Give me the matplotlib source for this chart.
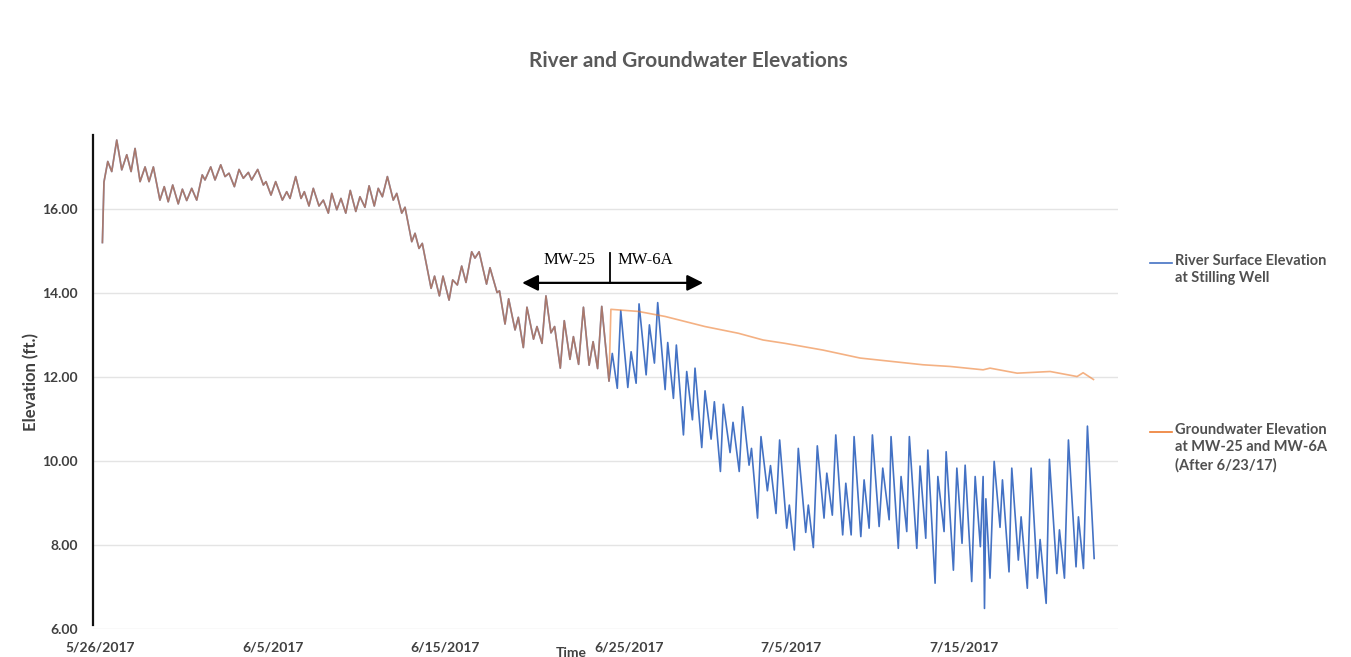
import matplotlib
matplotlib.use("Agg")
import matplotlib.pyplot as plt
import matplotlib.transforms as mtransforms
from matplotlib.lines import Line2D
import pandas as pd

# ---------------- data ----------------
START = pd.Timestamp("2017-05-26")

# River surface elevation at stilling well: days after 5/26/2017, elevation (ft)
river_day = [
    0.14, 0.23, 0.45, 0.68, 0.97, 1.26, 1.55, 1.80, 2.03, 2.32, 2.61, 2.84, 3.09, 3.47,
    3.72, 3.95, 4.21, 4.53, 4.77, 5.02, 5.31, 5.60, 5.92, 6.08, 6.41, 6.66, 6.99, 7.24,
    7.47, 7.78, 8.05, 8.30, 8.59, 8.78, 9.13, 9.46, 9.61, 9.90, 10.17, 10.56, 10.81,
    11.00, 11.33, 11.64, 11.83, 12.10, 12.35, 12.68, 12.93, 13.22, 13.42, 13.71, 13.95,
    14.23, 14.49, 14.81, 15.05, 15.34, 15.58, 15.88, 16.11, 16.35, 16.64, 16.98, 17.18,
    17.47, 17.66, 18.05, 18.24, 18.47, 18.66, 19.17, 19.37, 19.65, 19.86, 20.21, 20.42,
    20.69, 20.94, 21.19, 21.52, 21.71, 21.95, 22.38, 22.58, 22.99, 23.13, 23.45, 23.66,
    24.03, 24.22, 24.51, 24.72, 25.10, 25.30, 25.59, 25.82, 26.11, 26.32, 26.65, 26.88,
    27.21, 27.41, 27.71, 27.99, 28.32, 28.55, 28.81, 29.05, 29.47,
    29.66, 29.95, 30.15, 30.56, 30.75, 31.04, 31.21, 31.62, 31.81, 32.10, 32.29, 32.72,
    32.87, 33.20, 33.37, 33.78, 33.97, 34.30, 34.45, 34.84, 35.03, 35.38, 35.57, 35.92,
    36.09, 36.48, 36.65, 37.01, 37.21, 37.58, 37.72, 38.07, 38.27, 38.64, 38.82, 39.14,
    39.35, 39.76, 39.91, 40.20, 40.43, 40.86, 41.01, 41.30, 41.53, 41.92, 42.08, 42.40,
    42.60, 43.00, 43.18, 43.49, 43.66, 44.05, 44.24, 44.53, 44.72, 45.11, 45.32, 45.69,
    45.80, 46.22, 46.38, 46.71, 46.86, 47.29, 47.48, 47.81, 47.93, 48.35, 48.51, 48.87,
    48.99, 49.41, 49.61, 49.91, 50.09, 50.47, 50.67, 50.97, 51.13, 51.21, 51.29, 51.53,
    51.77, 52.11, 52.25, 52.63, 52.79, 53.17, 53.33, 53.69, 53.91, 54.27, 54.43, 54.78,
    54.97, 55.40, 55.55, 55.84, 56.07, 56.51, 56.65, 56.94, 57.17, 57.56,
]
river_elev = [
    15.20, 16.64, 17.13, 16.89, 17.64, 16.93, 17.29, 16.89, 17.44, 16.65, 17.00, 16.65, 17.00, 16.21,
    16.53, 16.17, 16.57, 16.12, 16.47, 16.20, 16.49, 16.21, 16.81, 16.69, 17.00, 16.69, 17.05, 16.77,
    16.85, 16.53, 16.94, 16.73, 16.87, 16.69, 16.94, 16.57, 16.65, 16.33, 16.65, 16.21, 16.41,
    16.25, 16.77, 16.25, 16.41, 16.07, 16.49, 16.07, 16.21, 15.90, 16.37, 15.98, 16.25,
    15.90, 16.44, 15.94, 16.29, 16.04, 16.55, 16.07, 16.49, 16.29, 16.77, 16.21, 16.37,
    15.90, 16.04, 15.22, 15.42, 15.06, 15.18, 14.11, 14.40, 13.93, 14.40, 13.83, 14.31,
    14.19, 14.64, 14.25, 14.98, 14.83, 14.98, 14.21, 14.60, 14.01, 14.05, 13.26, 13.86,
    13.12, 13.42, 12.70, 13.66, 12.90, 13.20, 12.80, 13.93, 13.05, 13.20, 12.21, 13.34,
    12.42, 12.96, 12.30, 13.66, 12.28, 12.84, 12.20, 13.68, 11.90,
    12.56, 11.73, 13.58, 11.75, 12.60, 11.85, 13.74, 12.05, 13.24, 12.33, 13.77, 11.70,
    12.82, 11.49, 12.76, 10.62, 12.13, 10.98, 12.21, 10.32, 11.67, 10.52, 11.41, 9.75,
    11.35, 10.20, 10.92, 9.75, 11.29, 9.90, 10.30, 8.64, 10.58, 9.29, 9.89, 8.75,
    10.50, 8.40, 8.95, 7.88, 10.30, 8.30, 8.95, 7.94, 10.36, 8.64, 9.71, 8.71,
    10.62, 8.24, 9.47, 8.24, 10.58, 8.20, 9.55, 8.40, 10.62, 8.44, 9.83, 8.60,
    10.58, 7.92, 9.63, 8.32, 10.58, 7.92, 9.88, 8.16, 10.26, 7.09, 9.63, 8.32,
    10.22, 7.40, 9.83, 8.04, 9.90, 7.13, 9.63, 7.96, 9.63, 6.49, 9.10, 7.21,
    9.99, 8.42, 9.55, 7.36, 9.83, 7.64, 8.67, 6.97, 9.83, 7.21, 8.13, 6.61,
    10.04, 7.32, 8.36, 7.21, 10.50, 7.48, 8.67, 7.44, 10.83, 7.68,
]

# Groundwater elevation: same as river up to 6/23, then MW-6A record
gw_switch_day = 29.47
gw_late_day = [29.58, 31.17, 32.72, 35.03, 36.96, 38.39, 39.66, 41.86, 44.01,
               47.65, 49.22, 51.13, 51.53, 53.10, 55.01, 56.57, 56.92, 57.52]
gw_late_elev = [13.61, 13.56, 13.44, 13.20, 13.04, 12.88, 12.80, 12.64, 12.45,
                12.29, 12.25, 12.17, 12.21, 12.09, 12.13, 12.01, 12.10, 11.94]

series_names = ["River Surface Elevation\nat Stilling Well",
                "Groundwater Elevation\nat MW-25 and MW-6A\n(After 6/23/17)"]
x_tick_days = [0, 10, 20, 30, 40, 50]
y_ticks = [6, 8, 10, 12, 14, 16]

# ---------------- build ----------------
def to_dt(days):
    return START + pd.to_timedelta(pd.Series(days, dtype=float), unit="D")

river_t = to_dt(river_day)
gw_early = [(d, v) for d, v in zip(river_day, river_elev) if d <= gw_switch_day]
gw_days = [d for d, _ in gw_early] + gw_late_day
gw_vals = [v for _, v in gw_early] + gw_late_elev
gw_t = to_dt(gw_days)

BLUE = "#4472C4"
ORANGE = "#ED7D31"
TXT = "#404040"
plt.rcParams["font.family"] = ["Lato", "DejaVu Sans"]

W, H = 1351, 657
fig = plt.figure(figsize=(W / 100, H / 100), dpi=100)
fig.patch.set_facecolor("white")

ax_l, ax_r, ax_t, ax_b = 93, 1118, 135, 629
ax = fig.add_axes([ax_l / W, 1 - ax_b / H, (ax_r - ax_l) / W, (ax_b - ax_t) / H])

ax.plot(river_t, river_elev, color=BLUE, lw=1.2, zorder=3, solid_joinstyle="round")
ax.plot(gw_t, gw_vals, color=ORANGE, lw=1.2, alpha=0.6, zorder=4, solid_joinstyle="round")

ax.set_ylim(6, 17.76)
ax.set_xlim(START - pd.Timedelta(days=0.405), START + pd.Timedelta(days=58.94))
ax.set_yticks(y_ticks)
ax.set_yticklabels([f"{v:.2f}" for v in y_ticks])
xt = [START + pd.Timedelta(days=d) for d in x_tick_days]
ax.set_xticks(xt)
ax.set_xticklabels([f"{t.month}/{t.day}/{t.year}" for t in xt])

ax.grid(axis="y", color="#E4E4E4", lw=1.0, zorder=0)
ax.grid(axis="x", visible=False)
for s in ["top", "right", "bottom"]:
    ax.spines[s].set_visible(False)
ax.spines["left"].set_color("#111111")
ax.spines["left"].set_linewidth(1.6)
ax.spines["left"].set_bounds(6.1, 17.76)

ax.tick_params(axis="both", length=0, colors=TXT)
ax.tick_params(axis="y", pad=11, labelsize=10)
ax.tick_params(axis="x", pad=9, labelsize=10)
for lab in ax.get_yticklabels() + ax.get_xticklabels():
    lab.set_fontweight("bold")
    lab.set_color(TXT)
# the 6/25 label sits a little right of its tick in the reference
lab625 = ax.get_xticklabels()[3]
lab625.set_transform(lab625.get_transform() + mtransforms.ScaledTranslation(11 / 100, 0, fig.dpi_scale_trans))

# titles
fig.text(688 / W, 1 - 61 / H, "River and Groundwater Elevations", ha="center", va="center",
         fontsize=15, fontweight="bold", color="#595959")
fig.text(31 / W, 1 - 382 / H, "Elevation (ft.)", rotation=90, ha="center", va="center",
         fontsize=12, fontweight="bold", color=TXT)
fig.text(571 / W, 1 - 653 / H, "Time", ha="center", va="center",
         fontsize=10, fontweight="bold", color=TXT)

# legend (drawn manually to match spacing)
for (y0, nlines), col, name in zip([(263, 2), (432, 3)], [BLUE, ORANGE], series_names):
    fig.add_artist(Line2D([1150 / W, 1172 / W], [1 - y0 / H, 1 - y0 / H], color=col, lw=1.2,
                          transform=fig.transFigure))
    fig.text(1175 / W, 1 - (y0 - 9) / H, name, ha="left", va="top", fontsize=10.5,
             fontweight="bold", color="#505050", linespacing=1.3)

# annotation: MW-25 | MW-6A double arrow
arrow_left = START + pd.Timedelta(days=24.44)
arrow_right = START + pd.Timedelta(days=34.92)
arrow_mid = START + pd.Timedelta(days=29.53)
ax.annotate("", xy=(arrow_left, 14.24), xytext=(arrow_right, 14.24),
            arrowprops=dict(arrowstyle="<|-|>", color="black", lw=1.6, mutation_scale=24,
                            shrinkA=0, shrinkB=0), zorder=6)
ax.plot([arrow_mid, arrow_mid], [14.24, 14.95], color="black", lw=1.3, zorder=6)
ax.text(START + pd.Timedelta(days=27.2), 14.79, "MW-25", ha="center", va="center",
        fontsize=12, family=["Liberation Serif", "DejaVu Serif"], color="black")
ax.text(START + pd.Timedelta(days=31.6), 14.79, "MW-6A", ha="center", va="center",
        fontsize=12, family=["Liberation Serif", "DejaVu Serif"], color="black")

fig.savefig("out.png", dpi=100, facecolor="white")
